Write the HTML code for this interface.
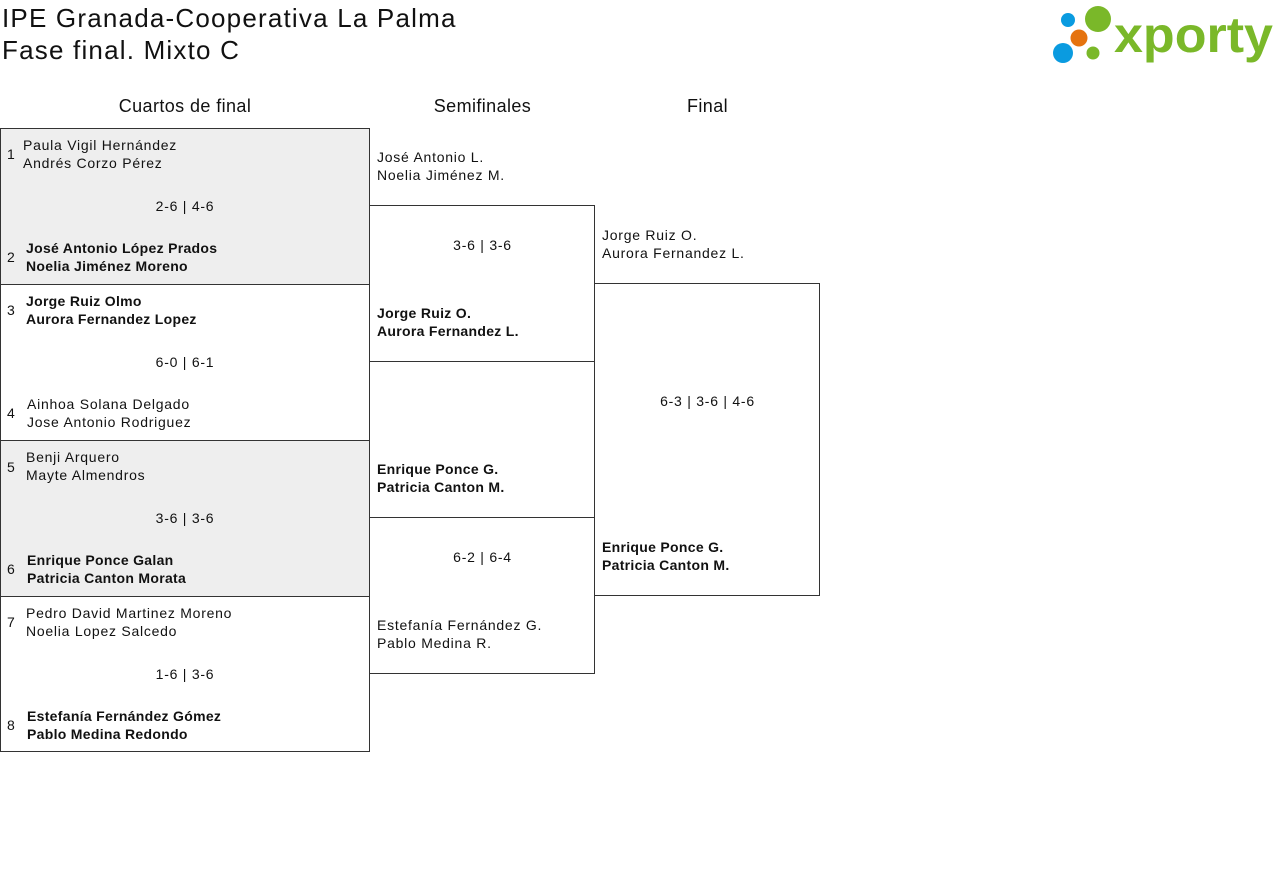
<!DOCTYPE html>
<html><head><meta charset="utf-8"><style>
body{margin:0;width:1280px;height:883px;background:#fff;font-family:"Liberation Sans",sans-serif;color:#111;position:relative;overflow:hidden}
.a{position:absolute;white-space:nowrap}
.t{font-size:14px;line-height:18px;letter-spacing:0.75px}
.b{font-weight:bold;letter-spacing:0.3px}
.box{position:absolute;border:1px solid #333;box-sizing:border-box}
.h{font-size:18px;position:absolute;text-align:center;letter-spacing:0.4px}
.n{font-size:14px}
</style></head><body>
<div class="a" style="left:2px;top:2px;font-size:26px;line-height:32px;letter-spacing:1.2px">IPE Granada-Cooperativa La Palma<br>Fase final. Mixto C</div>
<svg class="a" style="left:1050px;top:4px" width="226" height="64">
<circle cx="18" cy="16" r="7" fill="#0a9be0"/>
<circle cx="48" cy="15" r="13" fill="#7ab829"/>
<circle cx="29" cy="34" r="8.5" fill="#e5730f"/>
<circle cx="13" cy="49" r="10" fill="#0a9be0"/>
<circle cx="43" cy="49" r="6.5" fill="#7ab829"/>
<text x="64" y="48" font-family="Liberation Sans" font-weight="bold" font-size="50" fill="#7ab829" textLength="159" lengthAdjust="spacingAndGlyphs">xporty</text>
</svg>
<div class="h" style="left:0;width:370px;top:96px">Cuartos de final</div>
<div class="h" style="left:370px;width:225px;top:96px">Semifinales</div>
<div class="h" style="left:595px;width:225px;top:96px">Final</div>

<div class="box" style="left:0;top:128px;width:370px;height:157px;background:#eee"></div>
<div class="box" style="left:0;top:284px;width:370px;height:157px"></div>
<div class="box" style="left:0;top:440px;width:370px;height:157px;background:#eee"></div>
<div class="box" style="left:0;top:596px;width:370px;height:156px"></div>
<div class="box" style="left:369px;top:205px;width:226px;height:157px"></div>
<div class="box" style="left:369px;top:517px;width:226px;height:157px"></div>
<div class="box" style="left:594px;top:283px;width:226px;height:313px"></div>

<div class="a n" style="left:7px;top:146px">1</div>
<div class="a t" style="left:23px;top:136px">Paula Vigil Hernández<br>Andrés Corzo Pérez</div>
<div class="a t" style="left:0;width:370px;text-align:center;top:197px">2-6 | 4-6</div>
<div class="a n" style="left:7px;top:249px">2</div>
<div class="a t b" style="left:26px;top:239px">José Antonio López Prados<br>Noelia Jiménez Moreno</div>

<div class="a n" style="left:7px;top:302px">3</div>
<div class="a t b" style="left:26px;top:292px">Jorge Ruiz Olmo<br>Aurora Fernandez Lopez</div>
<div class="a t" style="left:0;width:370px;text-align:center;top:353px">6-0 | 6-1</div>
<div class="a n" style="left:7px;top:405px">4</div>
<div class="a t" style="left:27px;top:395px">Ainhoa Solana Delgado<br>Jose Antonio Rodriguez</div>

<div class="a n" style="left:7px;top:459px">5</div>
<div class="a t" style="left:26px;top:448px">Benji Arquero<br>Mayte Almendros</div>
<div class="a t" style="left:0;width:370px;text-align:center;top:509px">3-6 | 3-6</div>
<div class="a n" style="left:7px;top:561px">6</div>
<div class="a t b" style="left:27px;top:551px">Enrique Ponce Galan<br>Patricia Canton Morata</div>

<div class="a n" style="left:7px;top:614px">7</div>
<div class="a t" style="left:26px;top:604px">Pedro David Martinez Moreno<br>Noelia Lopez Salcedo</div>
<div class="a t" style="left:0;width:370px;text-align:center;top:665px">1-6 | 3-6</div>
<div class="a n" style="left:7px;top:717px">8</div>
<div class="a t b" style="left:27px;top:707px">Estefanía Fernández Gómez<br>Pablo Medina Redondo</div>

<div class="a t" style="left:377px;top:148px">José Antonio L.<br>Noelia Jiménez M.</div>
<div class="a t" style="left:370px;width:225px;text-align:center;top:236px">3-6 | 3-6</div>
<div class="a t b" style="left:377px;top:304px">Jorge Ruiz O.<br>Aurora Fernandez L.</div>
<div class="a t b" style="left:377px;top:460px">Enrique Ponce G.<br>Patricia Canton M.</div>
<div class="a t" style="left:370px;width:225px;text-align:center;top:548px">6-2 | 6-4</div>
<div class="a t" style="left:377px;top:616px">Estefanía Fernández G.<br>Pablo Medina R.</div>

<div class="a t" style="left:602px;top:226px">Jorge Ruiz O.<br>Aurora Fernandez L.</div>
<div class="a t" style="left:595px;width:225px;text-align:center;top:392px">6-3 | 3-6 | 4-6</div>
<div class="a t b" style="left:602px;top:538px">Enrique Ponce G.<br>Patricia Canton M.</div>
</body></html>
